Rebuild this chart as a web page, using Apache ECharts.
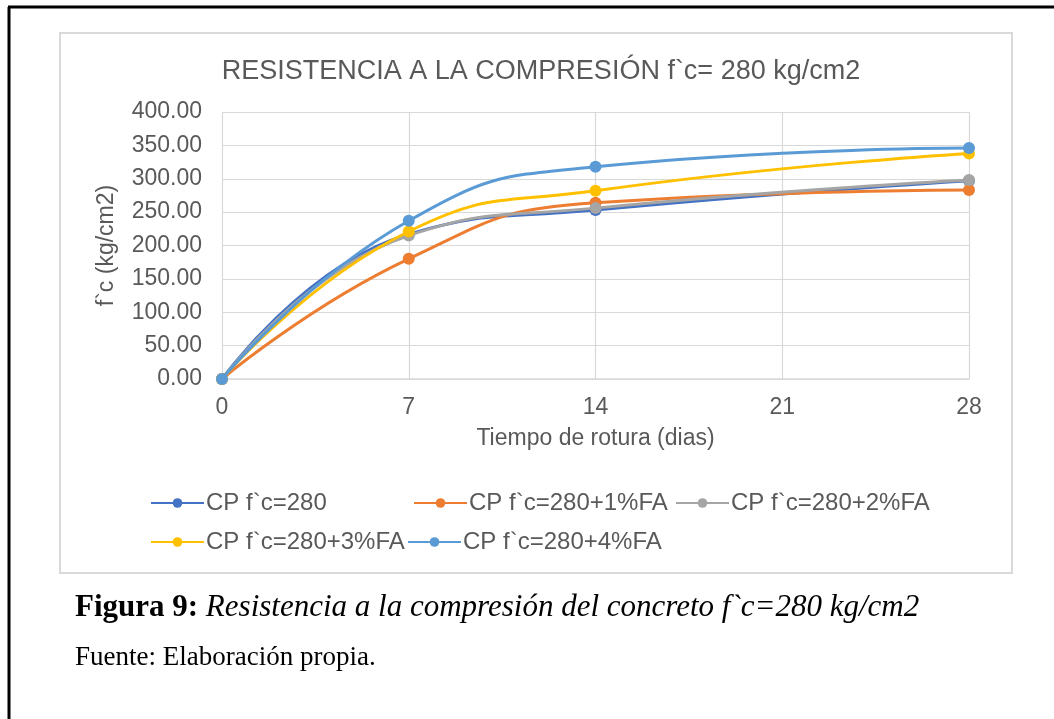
<!DOCTYPE html>
<html>
<head>
<meta charset="utf-8">
<script src="https://cdn.jsdelivr.net/npm/echarts@6/dist/echarts.min.js"></script>
<style>
html,body{margin:0;padding:0;background:#fff;}
#c{width:1054px;height:719px;}
</style>
</head>
<body>
<div id="c"></div>
<script>
// ---- data ----
const days = [0, 7, 14, 28];
const xTicks = [0, 7, 14, 21, 28];
const seriesNames = ['CP f`c=280', 'CP f`c=280+1%FA', 'CP f`c=280+2%FA', 'CP f`c=280+3%FA', 'CP f`c=280+4%FA'];
const cp280   = [0, 217, 253, 297];
const cp1FA   = [0, 180, 264, 283];
const cp2FA   = [0, 215, 256, 298];
const cp3FA   = [0, 221, 282, 338];
const cp4FA   = [0, 237, 318, 346];
const colors  = ['#4472C4', '#ED7D31', '#A5A5A5', '#FFC000', '#5B9BD5'];
const titleText = 'RESISTENCIA A LA COMPRESIÓN f`c= 280 kg/cm2';
const xName = 'Tiempo de rotura (dias)';
const yName = 'f`c (kg/cm2)';
const captionBold = 'Figura 9:';
const captionItalic = 'Resistencia a la compresión del concreto f`c=280 kg/cm2';
const sourceText = 'Fuente: Elaboración propia.';

const values = [cp280, cp1FA, cp2FA, cp3FA, cp4FA];
const sansFont = '"Liberation Sans", Arial, sans-serif';
const serifFont = '"Liberation Serif", "Times New Roman", serif';
const grey = '#595959';

const chart = echarts.init(document.getElementById('c'), null, {renderer: 'canvas'});

const series = seriesNames.map((n, i) => ({
  name: n,
  type: 'line',
  data: days.map((d, j) => [d, values[i][j]]),
  smooth: 0.5,
  symbol: 'circle',
  symbolSize: 12,
  lineStyle: {width: 3, color: colors[i]},
  itemStyle: {color: colors[i]},
  z: 2 + i
}));

const legendPos = [[150, 491], [413, 491], [675, 491], [150, 530], [407, 530]];
const legends = seriesNames.map((n, i) => ({
  data: [n],
  left: legendPos[i][0],
  top: legendPos[i][1],
  padding: 0,
  itemWidth: 53,
  itemHeight: 12,
  itemGap: 0,
  textStyle: {fontFamily: sansFont, fontSize: 24, color: grey, padding: [0, 0, 0, -3]}
}));

chart.setOption({
  animation: false,
  backgroundColor: '#fff',
  color: colors,
  title: {
    text: titleText,
    left: 536,
    top: 53,
    textAlign: 'center',
    textStyle: {fontFamily: sansFont, fontSize: 27, fontWeight: 'normal', color: grey}
  },
  legend: legends,
  grid: {left: 222, right: 85, top: 112, bottom: 340, containLabel: false},
  xAxis: {
    type: 'value',
    min: xTicks[0],
    max: xTicks[xTicks.length - 1],
    interval: 7,
    name: xName,
    nameLocation: 'middle',
    nameGap: 48,
    nameTextStyle: {fontFamily: sansFont, fontSize: 23, color: grey},
    axisLine: {show: true, lineStyle: {color: '#d9d9d9', width: 1.5}},
    axisTick: {show: false},
    axisLabel: {fontFamily: sansFont, fontSize: 23, color: grey, margin: 17},
    splitLine: {show: true, lineStyle: {color: '#d9d9d9', width: 1.2}}
  },
  yAxis: {
    type: 'value',
    min: 0,
    max: 400,
    interval: 50,
    name: yName,
    nameLocation: 'middle',
    nameGap: 104,
    nameRotate: 90,
    nameTextStyle: {fontFamily: sansFont, fontSize: 23, color: grey},
    axisLine: {show: false},
    axisTick: {show: false},
    axisLabel: {fontFamily: sansFont, fontSize: 23, color: grey, margin: 20,
      formatter: v => v.toFixed(2)},
    splitLine: {show: true, lineStyle: {color: '#d9d9d9', width: 1.2}}
  },
  graphic: [
    {type: 'rect', z: -10, silent: true,
     shape: {x: 60, y: 33, width: 952, height: 540},
     style: {fill: '#fff', stroke: '#d9d9d9', lineWidth: 2}},
    {type: 'line', z: 10, silent: true,
     shape: {x1: 9, y1: 7, x2: 9, y2: 719}, style: {stroke: '#000', lineWidth: 3}},
    {type: 'line', z: 10, silent: true,
     shape: {x1: 8, y1: 7, x2: 1054, y2: 7}, style: {stroke: '#000', lineWidth: 3}},
    {type: 'text', z: 10, silent: true, left: 75, top: 592,
     style: {
       text: '{b|' + captionBold + '} {i|' + captionItalic + '}',
       rich: {
         b: {fontFamily: serifFont, fontSize: 31, fontWeight: 'bold', fill: '#000'},
         i: {fontFamily: serifFont, fontSize: 31, fontStyle: 'italic', fill: '#000'}
       },
       font: '31px ' + serifFont, fill: '#000'
     }},
    {type: 'text', z: 10, silent: true, left: 75, top: 644,
     style: {text: sourceText, font: '27px ' + serifFont, fill: '#000'}}
  ],
  series: series
});
</script>
</body>
</html>
